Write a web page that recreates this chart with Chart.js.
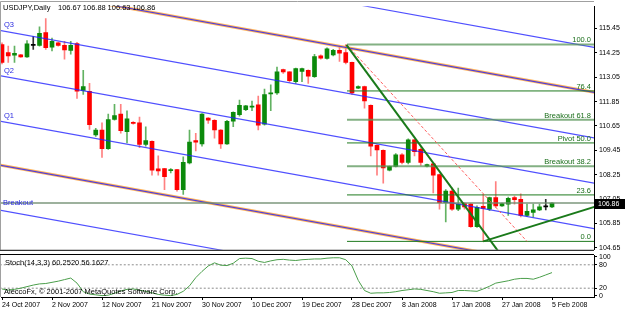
<!DOCTYPE html>
<html>
<head>
<meta charset="utf-8">
<script src="https://cdn.jsdelivr.net/npm/chart.js@4.4.1/dist/chart.umd.min.js"></script>
<style>
  html, body { margin: 0; padding: 0; background: #fff; }
  #wrap { position: relative; width: 625px; height: 313px; overflow: hidden; background: #fff; }
  #main { position: absolute; left: 0; top: 0; }
  #stoch { position: absolute; left: 0; top: 246px; }
</style>
</head>
<body>
<div id="wrap">
  <canvas id="main" width="625" height="256"></canvas>
  <canvas id="stoch" width="625" height="67"></canvas>
</div>
<script>
// ---- data ----
var dateLabels = ['24 Oct 2007', '2 Nov 2007', '12 Nov 2007', '21 Nov 2007', '30 Nov 2007', '10 Dec 2007',
  '19 Dec 2007', '28 Dec 2007', '8 Jan 2008', '17 Jan 2008', '27 Jan 2008', '5 Feb 2008'];
var dateTickIdx = [0, 8, 16, 24, 32, 40, 48, 56, 64, 72, 80, 88];

var openP = [114.66, 114.26, 114.13, 114.15, 114.05, 114.62, 114.62, 115.24, 114.53, 114.74,
  114.62, 114.37, 114.70, 112.40, 112.36, 110.21, 110.45, 109.53, 110.97, 111.24,
  110.37, 110.83, 110.80, 109.74, 109.90, 108.54, 108.55, 108.45, 108.50, 107.52,
  108.83, 109.93, 109.77, 111.04, 110.93, 110.45, 109.77, 110.88, 111.21, 111.45,
  111.58, 111.69, 110.74, 112.23, 112.28, 113.43, 113.31, 112.83, 113.34, 113.39,
  113.07, 114.10, 113.97, 114.15, 114.37, 114.26, 113.78, 112.51, 112.59, 111.67,
  109.70, 109.45, 108.47, 108.66, 109.23, 108.86, 109.97, 109.50, 108.67, 108.79,
  108.26, 106.88, 107.44, 106.56, 106.83, 106.80, 105.69, 106.69, 106.56, 107.12,
  106.72, 106.80, 107.12, 107.04, 106.25, 106.40, 106.52, 106.67, 106.67];
var highP = [114.74, 114.58, 114.58, 114.18, 114.85, 115.05, 115.53, 115.93, 114.97, 114.78,
  114.81, 114.81, 114.77, 113.39, 112.75, 110.53, 110.80, 111.24, 111.72, 111.72,
  111.40, 110.86, 111.09, 110.61, 109.92, 109.18, 108.57, 108.55, 108.52, 109.13,
  110.45, 110.29, 111.26, 111.06, 110.97, 110.47, 110.93, 111.34, 111.93, 111.67,
  111.88, 112.12, 112.47, 112.67, 113.55, 113.45, 113.33, 113.50, 113.50, 113.41,
  114.18, 114.15, 114.50, 114.42, 114.58, 114.66, 113.80, 112.62, 112.61, 111.69,
  109.72, 109.47, 108.68, 109.29, 109.29, 110.02, 109.99, 109.58, 108.78, 108.81,
  108.28, 107.52, 107.60, 107.59, 106.88, 106.83, 106.72, 107.28, 107.15, 107.91,
  106.86, 107.15, 107.20, 107.31, 106.80, 106.80, 106.80, 107.04, 106.88];
var lowP = [113.70, 113.78, 113.78, 114.02, 114.02, 114.42, 114.58, 114.42, 114.34, 114.58,
  113.94, 114.18, 112.01, 112.20, 110.48, 110.13, 109.10, 109.50, 110.93, 110.29,
  109.82, 110.74, 109.58, 109.66, 108.23, 108.23, 107.51, 108.34, 107.44, 107.28,
  108.78, 109.42, 109.66, 110.77, 110.05, 109.55, 109.74, 110.61, 111.13, 111.40,
  111.40, 110.45, 110.69, 111.40, 112.20, 113.23, 112.80, 112.75, 112.83, 112.75,
  113.04, 113.94, 113.94, 114.10, 113.83, 113.70, 112.20, 112.48, 111.52, 109.18,
  108.23, 107.83, 108.44, 108.63, 108.78, 108.78, 109.18, 108.71, 108.63, 107.36,
  106.56, 105.93, 106.50, 106.48, 106.56, 105.66, 105.66, 104.97, 106.48, 106.64,
  106.69, 106.25, 106.80, 106.17, 106.20, 106.17, 106.48, 106.52, 106.63];
var closeP = [113.78, 114.10, 114.23, 114.05, 114.69, 114.62, 115.21, 114.50, 114.81, 114.62,
  114.39, 114.62, 112.36, 112.59, 110.72, 110.45, 109.53, 110.96, 111.16, 110.42,
  111.00, 110.77, 109.74, 109.93, 108.47, 108.44, 108.15, 108.50, 107.52, 108.86,
  109.86, 109.85, 111.24, 110.93, 110.45, 109.77, 110.88, 111.32, 111.67, 111.64,
  111.62, 110.69, 112.20, 112.28, 113.31, 113.31, 112.88, 113.47, 113.47, 113.10,
  114.07, 113.99, 114.45, 114.37, 114.23, 113.78, 112.28, 112.59, 111.88, 109.66,
  109.47, 108.59, 108.66, 109.23, 108.86, 109.97, 109.39, 108.86, 108.75, 108.23,
  106.88, 107.44, 106.56, 106.80, 106.67, 105.69, 106.64, 106.59, 107.12, 106.72,
  106.83, 107.09, 107.02, 106.25, 106.45, 106.52, 106.67, 106.67, 106.86];

// Stoch(14,3,3) main line, one value per bar
var stochMain = [18, 15, 17, 20, 24, 28, 31, 32, 35, 38, 42, 46, 33, 11, 5, 3, 1, 2, 7, 13,
  17, 18, 15, 12, 8, 4, 2, 1, 4, 12, 26, 47, 63, 77, 85, 79, 78, 84, 96, 97,
  96, 89, 86, 90, 93, 94, 92, 91, 93, 94, 95, 95, 97, 98, 98, 93, 77, 40, 14, 7,
  8, 8, 9, 11, 14, 16, 18, 17, 14, 11, 7, 8, 9, 14, 14, 13, 12, 18, 25, 33,
  36, 39, 43, 45, 45, 43, 48, 54, 60];

var priceTicks = [115.45, 114.25, 113.05, 111.85, 110.65, 109.45, 108.25, 107.05, 105.85, 104.65];
var stochTicks = [0, 20, 80, 100];
var stochLevels = [20, 80];

// parallel channel lines (price at bar -1 and bar 95)
var channelX = [-1, 95];
var channelStart = [119.84, 117.63, 115.39, 113.16, 110.92, 108.76, 106.54];
var channelEnd = [114.50, 112.29, 110.05, 107.82, 105.58, 103.42, 101.21];
var channelDouble = [false, true, false, false, false, true, false];
var channelTags = ['', '', 'Q3', 'Q2', 'Q1', '', ''];

// fibonacci retracement
var fibX = [55.2, 95];
var fibHigh = 114.66;
var fibLow = 104.97;
var fibPct = [0, 23.6, 38.2, 50, 61.8, 76.4, 100];
var fibNames = ['0.0', '23.6', 'Breakout 38.2', 'Pivot 50.0', 'Breakout 61.8', '76.4', '100.0'];

// trend lines
var downTrendX = [55.1, 79.6];
var downTrendY = [114.64, 104.40];
var upTrendX = [77, 95];
var upTrendY = [104.97, 106.69];
var dashX = [55.2, 84];
var dashY = [114.64, 104.97];
var breakoutX = [-1, 95];
var breakoutLevel = 106.86;

var FONT = "'Liberation Sans', Arial, sans-serif";
var X_MIN = -0.16, X_MAX = 94.72;

Chart.defaults.font.family = FONT;
Chart.defaults.font.size = 7;
Chart.defaults.color = '#000';

function pts(xs, ys) {
  return xs.map(function(x, i) { return { x: x, y: ys[i] }; });
}

function fibPrice(p) {
  return fibLow + (fibHigh - fibLow) * p / 100;
}

function lineSet(data, color, width, order, dash) {
  return {
    type: 'line', data: data, borderColor: color, borderWidth: width,
    borderDash: dash || [], pointRadius: 0, tension: 0, order: order, fill: false
  };
}

function bodyColor(i) {
  if (Math.abs(closeP[i] - openP[i]) < 0.005) return '#000000';
  return closeP[i] > openP[i] ? '#0b8a0b' : '#ff0000';
}
function wickColor(i) {
  if (Math.abs(closeP[i] - openP[i]) < 0.005) return '#333333';
  return closeP[i] > openP[i] ? '#62b262' : '#ff8080';
}

// ---- main price panel ----
var datasets = [];
datasets.push({
  type: 'bar', grouped: false, order: 20, barThickness: 1,
  data: openP.map(function(o, i) { return { x: i, y: [lowP[i], highP[i]] }; }),
  backgroundColor: openP.map(function(o, i) { return wickColor(i); })
});
datasets.push({
  type: 'bar', grouped: false, order: 19, barThickness: 4, minBarLength: 1,
  data: openP.map(function(o, i) { return { x: i, y: [o, closeP[i]] }; }),
  backgroundColor: openP.map(function(o, i) { return bodyColor(i); })
});
channelStart.forEach(function(s, k) {
  var d = pts(channelX, [s, channelEnd[k]]);
  if (channelDouble[k]) datasets.push(lineSet(d, 'rgba(255,165,60,0.85)', 3, 9));
  datasets.push(lineSet(d, 'rgba(35,35,255,0.8)', 1.1, 8));
});
fibPct.forEach(function(p, k) {
  var light = (p === 100 || p === 61.8 || p === 38.2);
  datasets.push(lineSet(pts(fibX, [fibPrice(p), fibPrice(p)]),
    light ? 'rgba(90,150,90,0.75)' : '#1f7a1f', light ? 2 : 1, 7));
});
datasets.push(lineSet(pts(breakoutX, [breakoutLevel, breakoutLevel]), 'rgba(110,140,110,0.9)', 1.5, 7));
datasets.push(lineSet(pts(dashX, dashY), 'rgba(255,80,80,0.9)', 1, 6, [3, 2]));
datasets.push(lineSet(pts(downTrendX, downTrendY), '#1a7a1a', 2, 5));
datasets.push(lineSet(pts(upTrendX, upTrendY), '#1a7a1a', 2, 5));

var mainDecor = {
  id: 'mainDecor',
  afterDraw: function(chart) {
    var ctx = chart.ctx, a = chart.chartArea, ys = chart.scales.y;
    ctx.save();
    // frame
    ctx.lineWidth = 1;
    ctx.strokeStyle = '#a0a0a0';
    ctx.beginPath();
    ctx.moveTo(0.5, a.bottom); ctx.lineTo(0.5, 1.5); ctx.lineTo(a.right, 1.5);
    ctx.stroke();
    ctx.strokeStyle = '#000';
    ctx.beginPath(); ctx.moveTo(0, a.bottom + 0.5); ctx.lineTo(a.right, a.bottom + 0.5); ctx.stroke();

    // header
    ctx.font = '7.5px ' + FONT;
    ctx.fillStyle = '#000';
    ctx.textBaseline = 'middle';
    ctx.textAlign = 'left';
    ctx.fillText('USDJPY,Daily', 3, 8);
    [openP[88], highP[88], lowP[88], closeP[88]].forEach(function(v, i) {
      ctx.fillText(v.toFixed(2), 58 + i * 24.8, 8);
    });

    // channel tags
    ctx.fillStyle = '#2a2ae0';
    ctx.textBaseline = 'bottom';
    channelTags.forEach(function(tag, k) {
      if (!tag) return;
      var p = channelStart[k] + (channelEnd[k] - channelStart[k]) * (0.3 - channelX[0]) / (channelX[1] - channelX[0]);
      ctx.fillText(tag, 4, ys.getPixelForValue(p) - 2);
    });
    ctx.textBaseline = 'middle';
    ctx.fillText('Breakout', 3, ys.getPixelForValue(breakoutLevel));

    // fib labels
    ctx.fillStyle = '#1a6e1a';
    ctx.textAlign = 'right';
    ctx.textBaseline = 'bottom';
    fibPct.forEach(function(p, k) {
      ctx.fillText(fibNames[k], 591, ys.getPixelForValue(fibPrice(p)) - 0.5);
    });

    // last price box (the 107.05 label peeks out above it, as in MT4)
    var yy = Math.round(ys.getPixelForValue(closeP[88]));
    ctx.fillStyle = '#000';
    ctx.fillRect(a.right + 1, yy - 4, 30, 10);
    ctx.fillStyle = '#fff';
    ctx.textAlign = 'left';
    ctx.textBaseline = 'middle';
    ctx.font = '7px ' + FONT;
    ctx.fillText(closeP[88].toFixed(2), a.right + 4, yy + 1);
    ctx.restore();
  }
};

new Chart(document.getElementById('main'), {
  type: 'bar',
  data: { datasets: datasets },
  plugins: [mainDecor],
  options: {
    responsive: false,
    animation: false,
    events: [],
    layout: { padding: { left: 1, top: 2, right: 0, bottom: 2 } },
    plugins: { legend: { display: false }, tooltip: { enabled: false } },
    scales: {
      x: { type: 'linear', display: false, min: X_MIN, max: X_MAX, offset: false },
      y: {
        type: 'linear', position: 'right', min: 104.556, max: 116.544, beginAtZero: false,
        afterBuildTicks: function(s) { s.ticks = priceTicks.map(function(v) { return { value: v }; }); },
        afterFit: function(s) { s.width = 31; },
        ticks: { autoSkip: false, padding: 2, color: '#000', font: { size: 7 },
          callback: function(v) { return v.toFixed(2); } },
        grid: { display: true, drawOnChartArea: false, drawTicks: true, tickLength: 3, color: '#000' },
        border: { display: true, color: '#000', width: 1 }
      }
    }
  }
});

// ---- stochastic panel (canvas starts 8px above the panel so top labels have room) ----
var stochSets = [
  lineSet(stochMain.map(function(v, i) { return { x: i, y: v }; }), '#4a9e4a', 1, 1)
];
stochLevels.forEach(function(l) {
  stochSets.push(lineSet(pts([-1, 95], [l, l]), '#8c8c8c', 1, 2, [2, 2]));
});

var stochDecor = {
  id: 'stochDecor',
  afterDraw: function(chart) {
    var ctx = chart.ctx, a = chart.chartArea;
    ctx.save();
    ctx.lineWidth = 1;
    ctx.strokeStyle = '#a0a0a0';
    ctx.beginPath(); ctx.moveTo(0.5, a.top); ctx.lineTo(0.5, a.bottom); ctx.stroke();
    ctx.strokeStyle = '#000';
    ctx.beginPath(); ctx.moveTo(0, a.top - 0.5); ctx.lineTo(a.right, a.top - 0.5); ctx.stroke();
    ctx.font = '7.5px ' + FONT;
    ctx.fillStyle = '#000';
    ctx.textAlign = 'left';
    ctx.textBaseline = 'middle';
    ctx.fillText('Stoch(14,3,3) 60.2520 56.1627', 5, a.top + 8);
    ctx.fillText('AleccoFx, \u00a9 2001-2007 MetaQuotes Software Corp.', 4, a.top + 37);
    ctx.restore();
  }
};

new Chart(document.getElementById('stoch'), {
  type: 'line',
  data: { datasets: stochSets },
  plugins: [stochDecor],
  options: {
    responsive: false,
    animation: false,
    events: [],
    layout: { padding: { left: 1, top: 9, right: 0, bottom: 0 } },
    plugins: { legend: { display: false }, tooltip: { enabled: false } },
    scales: {
      x: {
        type: 'linear', min: X_MIN, max: X_MAX, offset: false,
        afterBuildTicks: function(s) { s.ticks = dateTickIdx.map(function(v) { return { value: v }; }); },
        afterFit: function(s) { s.height = 16; },
        ticks: { autoSkip: false, maxRotation: 0, align: 'start', padding: 1, color: '#000', font: { size: 7 },
          callback: function(v, i) { return dateLabels[i]; } },
        grid: { display: true, drawOnChartArea: false, drawTicks: true, tickLength: 3, color: '#000' },
        border: { display: true, color: '#000', width: 1 }
      },
      y: {
        type: 'linear', position: 'right', min: -2.6, max: 105.1,
        afterBuildTicks: function(s) { s.ticks = stochTicks.map(function(v) { return { value: v }; }); },
        afterFit: function(s) { s.width = 31; },
        ticks: { autoSkip: false, padding: 2, color: '#000', font: { size: 7 } },
        grid: { display: true, drawOnChartArea: false, drawTicks: true, tickLength: 3, color: '#000' },
        border: { display: true, color: '#000', width: 1 }
      }
    }
  }
});
</script>
</body>
</html>
